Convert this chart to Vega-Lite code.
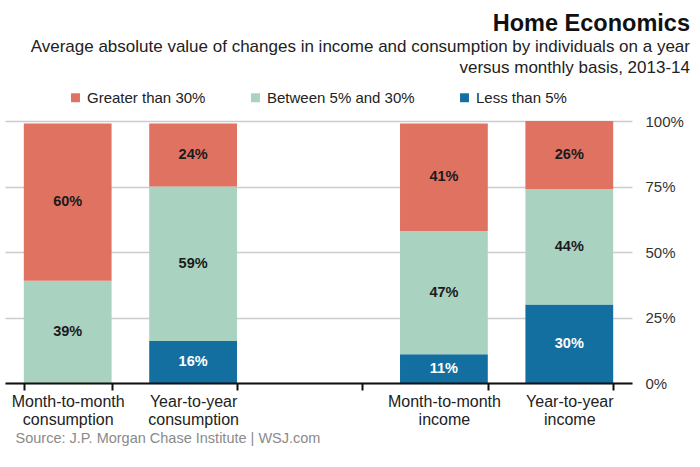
{
  "$schema": "https://vega.github.io/schema/vega-lite/v6.json",
  "width": 627,
  "height": 262,
  "autosize": {"type": "none"},
  "padding": {"left": 5, "top": 121, "right": 68, "bottom": 84},
  "background": "white",
  "config": {"font": "Liberation Sans", "view": {"stroke": null}},
  "title": {
    "text": "Home Economics",
    "subtitle": ["Average absolute value of changes in income and consumption by individuals on a year", "versus monthly basis, 2013-14"],
    "anchor": "end",
    "frame": "group",
    "dx": 58,
    "offset": 14,
    "fontSize": 23.5,
    "fontWeight": "bold",
    "color": "#111111",
    "subtitleFontSize": 17,
    "subtitleColor": "#222222",
    "subtitleLineHeight": 21,
    "subtitlePadding": 4
  },
  "data": {
    "values": [
      {"category": "Year-to-year income", "group": "Less than 5%", "rank": 1, "value": 30},
      {"category": "Year-to-year income", "group": "Between 5% and 30%", "rank": 2, "value": 44},
      {"category": "Year-to-year income", "group": "Greater than 30%", "rank": 3, "value": 26},
      {"category": "Month-to-month income", "group": "Less than 5%", "rank": 1, "value": 11},
      {"category": "Month-to-month income", "group": "Between 5% and 30%", "rank": 2, "value": 47},
      {"category": "Month-to-month income", "group": "Greater than 30%", "rank": 3, "value": 41},
      {"category": "Year-to-year consumption", "group": "Less than 5%", "rank": 1, "value": 16},
      {"category": "Year-to-year consumption", "group": "Between 5% and 30%", "rank": 2, "value": 59},
      {"category": "Year-to-year consumption", "group": "Greater than 30%", "rank": 3, "value": 24},
      {"category": "Month-to-month consumption", "group": "Between 5% and 30%", "rank": 2, "value": 39},
      {"category": "Month-to-month consumption", "group": "Greater than 30%", "rank": 3, "value": 60}
    ]
  },
  "transform": [
    {"stack": "value", "groupby": ["category"], "sort": [{"field": "rank", "order": "ascending"}], "as": ["y0", "y1"]},
    {"calculate": "(datum.y0 + datum.y1) / 2", "as": "mid"},
    {"calculate": "datum.value + '%'", "as": "label"}
  ],
  "encoding": {
    "x": {
      "field": "category",
      "type": "nominal",
      "scale": {
        "domain": ["Month-to-month consumption", "Year-to-year consumption", " ", "Month-to-month income", "Year-to-year income"],
        "paddingInner": 0.3,
        "paddingOuter": 0.15
      },
      "axis": {
        "orient": "bottom",
        "title": "Source: J.P. Morgan Chase Institute  |  WSJ.com",
        "titleAnchor": "start",
        "titleAlign": "left",
        "titleX": 10,
        "titleY": 48,
        "titleFontSize": 14.5,
        "titleFontWeight": "normal",
        "titleColor": "#8a8a8a",
        "domainColor": "#111111",
        "domainWidth": 2,
        "tickColor": "#111111",
        "tickWidth": 2,
        "tickSize": 7,
        "tickBand": "extent",
        "labelAngle": 0,
        "labelExpr": "(datum.value && trim(datum.value)) ? split(datum.value, ' ') : ''",
        "labelFontSize": 16,
        "labelColor": "#222222",
        "labelLineHeight": 18,
        "labelPadding": 3,
        "zindex": 2
      }
    }
  },
  "layer": [
    {
      "mark": {"type": "bar"},
      "encoding": {
        "y": {
          "field": "y1",
          "type": "quantitative",
          "scale": {"domain": [0, 100]},
          "axis": {
            "orient": "right",
            "title": null,
            "values": [0, 25, 50, 75, 100],
            "labelExpr": "datum.value + '%'",
            "grid": true,
            "gridColor": "#cccccc",
            "gridWidth": 1.5,
            "domain": false,
            "ticks": false,
            "labelFontSize": 15,
            "labelColor": "#333333",
            "labelPadding": 13
          }
        },
        "y2": {"field": "y0"},
        "color": {
          "field": "group",
          "type": "nominal",
          "scale": {
            "domain": ["Greater than 30%", "Between 5% and 30%", "Less than 5%"],
            "range": ["#e07262", "#a9d2c1", "#136fa0"]
          },
          "legend": {
            "orient": "none",
            "direction": "horizontal",
            "legendX": 63,
            "legendY": -31,
            "title": null,
            "symbolType": "square",
            "symbolSize": 80,
            "symbolStrokeWidth": 0,
            "labelFontSize": 15,
            "labelColor": "#222222",
            "columnPadding": 42
          }
        }
      }
    },
    {
      "mark": {"type": "text", "fontSize": 14.5, "fontWeight": "bold", "baseline": "middle"},
      "encoding": {
        "y": {"field": "mid", "type": "quantitative"},
        "text": {"field": "label"},
        "color": {
          "condition": {"test": "datum.group == 'Less than 5%'", "value": "#ffffff"},
          "value": "#1b1b1b"
        }
      }
    }
  ]
}
